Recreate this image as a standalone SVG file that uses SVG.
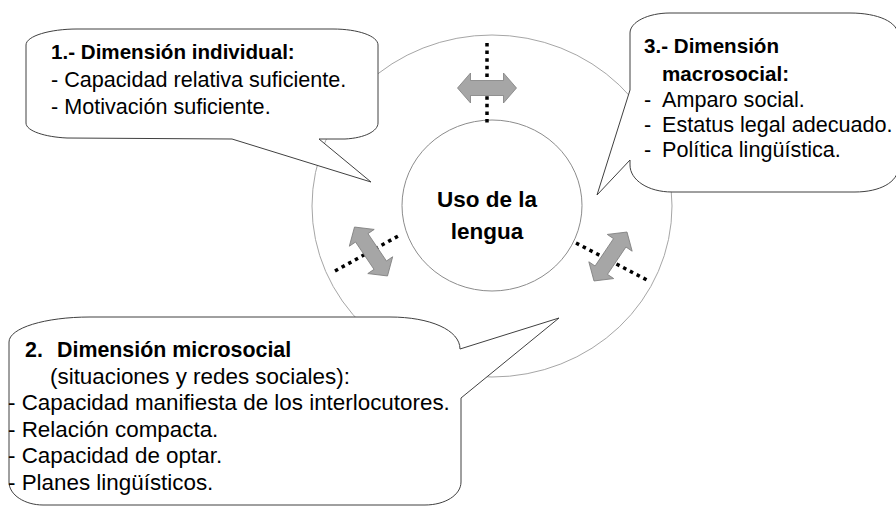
<svg xmlns="http://www.w3.org/2000/svg" width="896" height="506" viewBox="0 0 896 506">
  <style>
    .ring { fill: #ffffff; stroke: #a6a6a6; stroke-width: 1; }
    .core { fill: #ffffff; stroke: #8c8c8c; stroke-width: 1; }
    .callout { fill: #ffffff; stroke: #404040; stroke-width: 1; stroke-linejoin: miter; }
    .dots { fill: none; stroke: #000000; stroke-width: 3.5; stroke-dasharray: 3.5 4.1; }
    .arrow { fill: #a6a6a6; stroke: #7f7f7f; stroke-width: 0.8; }
    text { font-family: "Liberation Sans", Arial, sans-serif; fill: #000000; }
    .t { font-size: 21.6px; }
    .t2 { font-size: 22.4px; }
    .h { font-size: 20.6px; font-weight: bold; }
    .h2 { font-size: 21.4px; font-weight: bold; }
    .c { font-size: 22.5px; font-weight: bold; text-anchor: middle; }
  </style>
  <defs>
    <polygon id="dblarrow" points="-29.5,0 -16.5,-15 -16.5,-7.5 16.5,-7.5 16.5,-15 29.5,0 16.5,15 16.5,7.5 -16.5,7.5 -16.5,15"/>
  </defs>

  <g id="outer-ring">
    <ellipse class="ring" cx="492" cy="206" rx="180" ry="171"/>
  </g>

  <g id="uso-lengua">
    <ellipse class="core" cx="492" cy="205.5" rx="90" ry="85.5"/>
    <text class="c" x="487" y="207">Uso de la</text>
    <text class="c" x="487" y="239">lengua</text>
  </g>

  <g id="connectors">
    <line class="dots" x1="487" y1="43" x2="487" y2="125"/>
    <line class="dots" x1="335" y1="271" x2="400" y2="235"/>
    <line class="dots" x1="576" y1="243" x2="649" y2="281"/>
    <use href="#dblarrow" class="arrow" transform="translate(487,88)"/>
    <use href="#dblarrow" class="arrow" transform="translate(371,251.5) rotate(56)"/>
    <use href="#dblarrow" class="arrow" transform="translate(610.5,256.5) rotate(-56)"/>
  </g>

  <g id="dimension-individual">
    <path class="callout" d="M 77,29 L 333,29 C 358,29 378,36 378,45 L 378,123 C 378,131 365,138 345,139 L 319,139 L 371,182 L 232,139 L 67,138 C 45,137 26,131 26,123 L 26,45 C 26,36 50,29 77,29 Z"/>
    <text class="h" x="51" y="59">1.- Dimensión individual:</text>
    <text class="t" x="51" y="87">- Capacidad relativa suficiente.</text>
    <text class="t" x="51" y="114">- Motivación suficiente.</text>
  </g>

  <g id="dimension-macrosocial">
    <path class="callout" d="M 670,13 L 850,13 C 878,13 898,22 898,35 L 898,168 C 898,182 880,192 855,192 L 672,192 C 648,192 630,180 630,165 L 630,160 L 597,195 L 630,90 L 630,33 C 630,22 648,13 670,13 Z"/>
    <text class="h" x="644" y="53">3.- Dimensión</text>
    <text class="h" x="662" y="81">macrosocial:</text>
    <text class="t"><tspan x="644" y="107">-</tspan><tspan x="662" y="107">Amparo social.</tspan></text>
    <text class="t"><tspan x="644" y="132">-</tspan><tspan x="662" y="132">Estatus legal adecuado.</tspan></text>
    <text class="t"><tspan x="644" y="157">-</tspan><tspan x="662" y="157">Política lingüística.</tspan></text>
  </g>

  <g id="dimension-microsocial">
    <path class="callout" d="M 90,317 L 390,317 C 430,317 460,330 460,349 L 559,318 L 461,398 L 461,482 C 461,495 445,505 425,505 L 43,505 C 25,505 9,495 9,482 L 9,342 C 9,328 45,317 90,317 Z"/>
    <text class="h2"><tspan x="25" y="357">2.</tspan><tspan x="57" y="357">Dimensión microsocial</tspan></text>
    <text class="t2" x="50" y="384">(situaciones y redes sociales):</text>
    <text class="t2" x="8" y="410">- Capacidad manifiesta de los interlocutores.</text>
    <text class="t2" x="8" y="437">- Relación compacta.</text>
    <text class="t2" x="8" y="463">- Capacidad de optar.</text>
    <text class="t2" x="8" y="490">- Planes lingüísticos.</text>
  </g>
</svg>
